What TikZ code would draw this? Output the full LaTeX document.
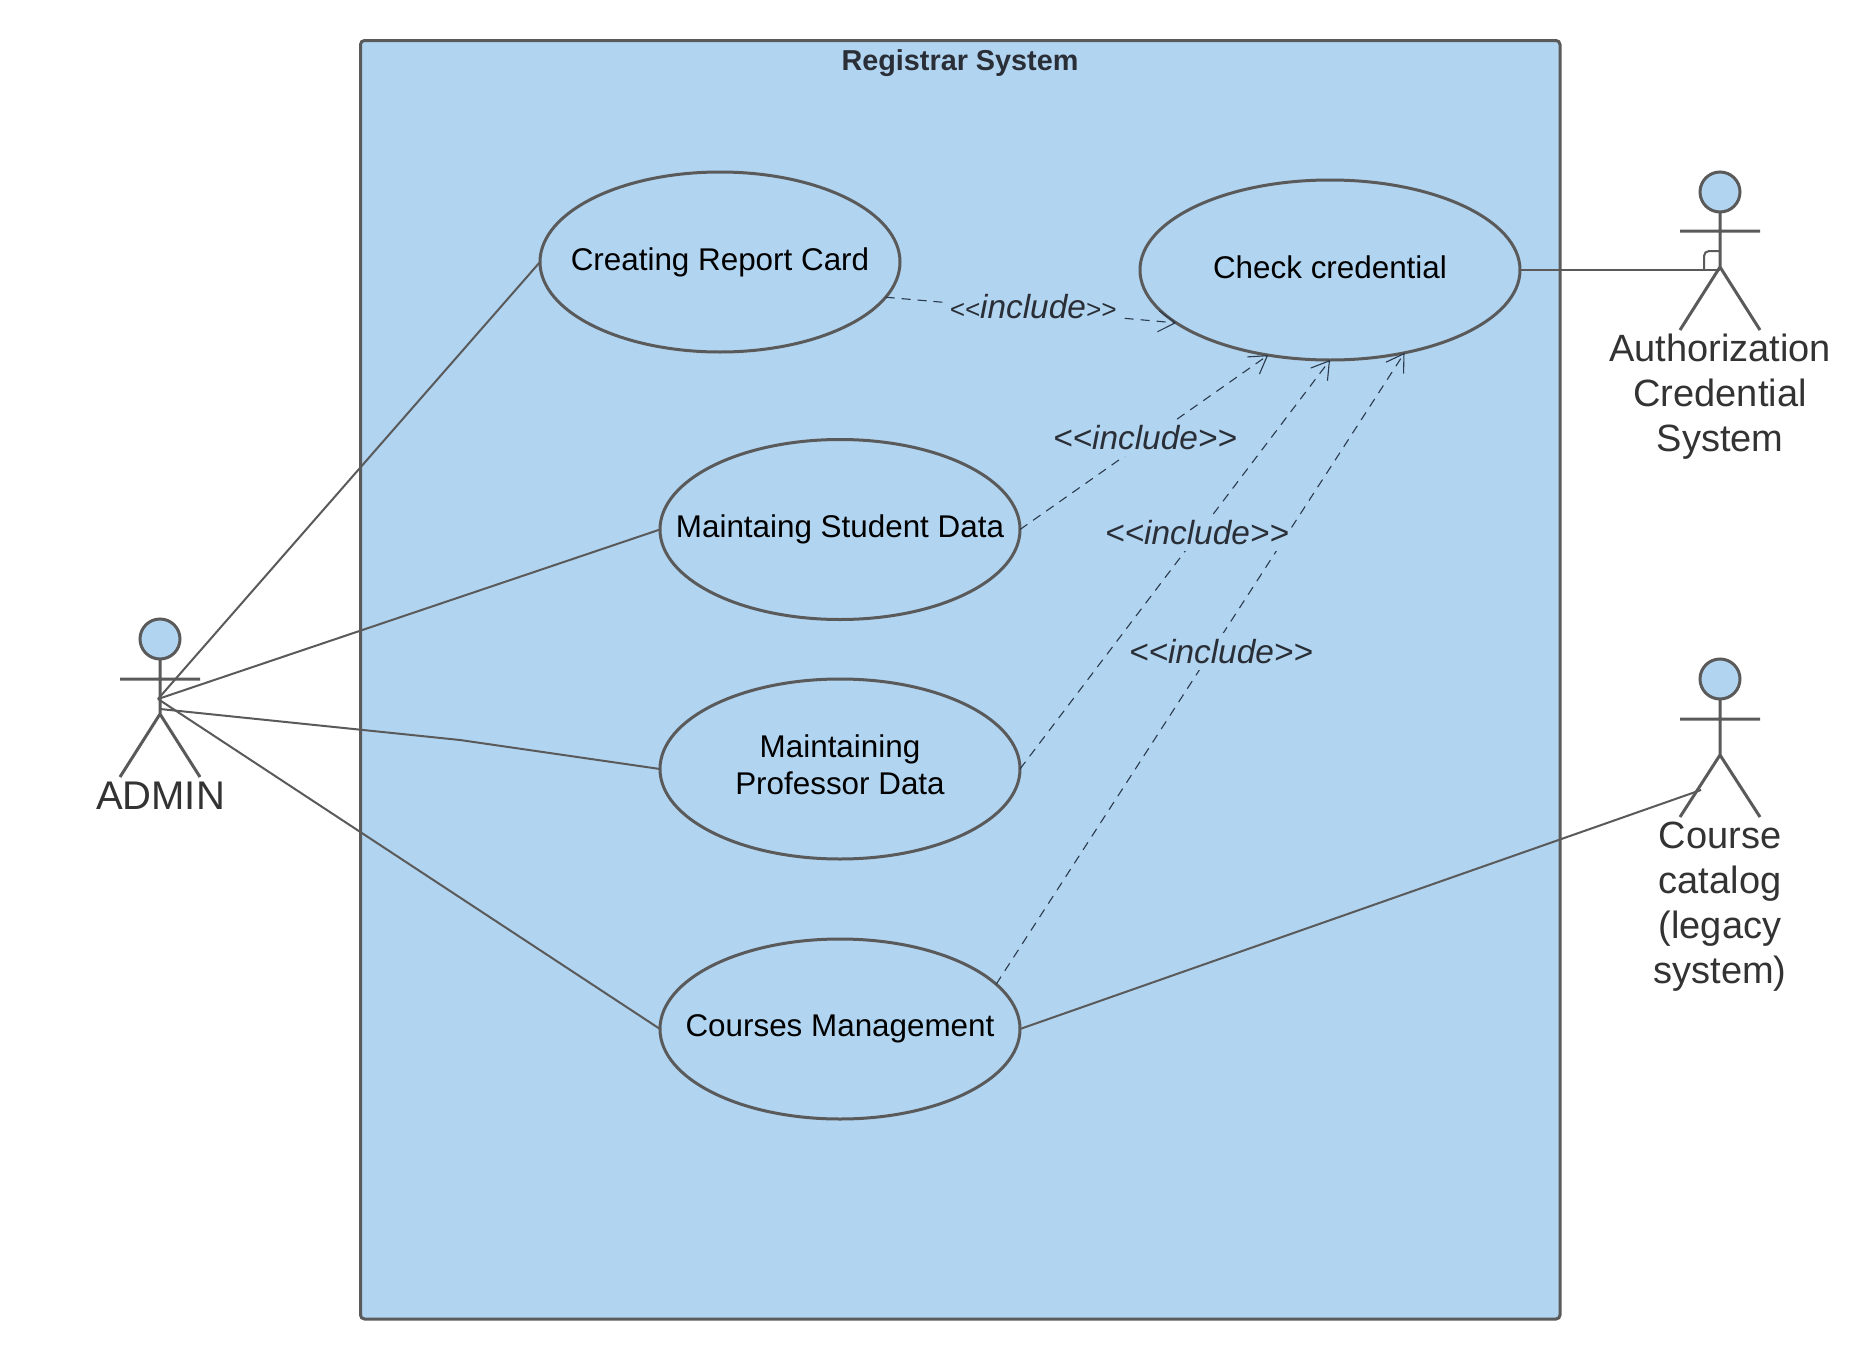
\documentclass[tikz,border=0pt]{standalone}
\usepackage{fontspec}
\setmainfont{Liberation Sans}
\usetikzlibrary{shapes.geometric,arrows.meta}
\definecolor{boxblue}{HTML}{B1D4F0}
\definecolor{edgegrey}{HTML}{5A5A5A}
\definecolor{depink}{HTML}{2A3A4C}
\definecolor{labelink}{HTML}{2A2E36}
\definecolor{actorink}{HTML}{333333}
\newcommand{\uctext}[2][0pt]{\raisebox{#1}{\makebox[0pt]{#2}}}
\tikzset{
  usecase/.style={ellipse,draw=edgegrey,fill=boxblue,line width=1.5pt,minimum width=180pt,minimum height=90pt,inner sep=0pt,outer sep=0pt,align=center,font=\fontsize{15.7}{18.5}\selectfont,text=black},
  assoc/.style={draw=edgegrey,line width=1pt},
  dep/.style={draw=depink,line width=.55pt,dash pattern=on 4.5pt off 3.5pt,-{Straight Barb[length=8.5pt,width=10.5pt,line width=.55pt]}},
  deplabel/.style={fill=boxblue,inner xsep=1pt,inner ysep=3pt,text=labelink,font=\fontsize{16.7}{19}\itshape},
  stick/.style={draw=edgegrey,line width=1.5pt},
  head/.style={circle,draw=edgegrey,fill=boxblue,line width=1.5pt,minimum size=20pt,inner sep=0pt,outer sep=0pt},
  actorname/.style={align=center,text=actorink,font=\fontsize{19}{22.6}\selectfont},
  frame/.style={draw=edgegrey,fill=boxblue,line width=1.5pt,rounded corners=2pt}
}
\begin{document}
\begin{tikzpicture}[x=.5pt,y=-.5pt]
\useasboundingbox (0,0) rectangle (1870,1360);
\fill[white] (0,0) rectangle (1870,1360);
% system frame
\path[frame] (360.5,40.5) rectangle (1560,1319);
\node[font=\fontsize{14.4}{17}\bfseries,text=labelink] (title) at (960,63.5) {Registrar System};
% use cases
\node[usecase] (rc) at (720,262) {\uctext{Creating Report Card}};
\node[usecase,minimum width=190pt] (cc) at (1330,270) {\uctext[2.6pt]{Check credential}};
\node[usecase] (msd) at (840,529.5) {\uctext[-1.2pt]{Maintaing Student Data}};
\node[usecase] (mpd) at (840,769) {\uctext[7pt]{\begin{tabular}{@{}c@{}}Maintaining\\Professor Data\end{tabular}}};
\node[usecase] (cm) at (840,1029) {\uctext[-1.2pt]{Courses Management}};
% actors
\node[head] (adminhead) at (160,639) {};
\draw[stick] (adminhead.south) -- (160,714) (120,679) -- (200,679) (120,777) -- (160,714) -- (200,777);
\node[actorname,font=\fontsize{20}{24}\selectfont] (admin) at (160.5,796) {ADMIN};
\coordinate (adminhub) at (158,699);
\coordinate (adminlow) at (160,709);
\coordinate (bend) at (460,740);
\node[head] (authhead) at (1720,192) {};
\draw[stick] (authhead.south) -- (1720,267) (1680,231) -- (1760,231) (1680,330) -- (1720,267) -- (1760,330);
\node[actorname] (auth) at (1720,396.5) {Authorization\\Credential\\System};
\coordinate (authport) at (1720,270);
\node[head] (cathead) at (1720,679) {};
\draw[stick] (cathead.south) -- (1720,755) (1680,719) -- (1760,719) (1680,817) -- (1720,755) -- (1760,817);
\node[actorname] (cat) at (1720,906.5) {Course\\catalog\\(legacy\\system)};
\coordinate (catport) at (1701,790);
% associations
\draw[assoc] (adminhub) -- (rc.west);
\draw[assoc] (adminhub) -- (msd.west);
\draw[assoc] (adminlow) -- (bend) -- (mpd.west);
\draw[assoc] (adminhub) -- (cm.west);
\draw[assoc] (cm.east) -- (catport);
\draw[assoc] (cc.east) -- (authport);
\draw[assoc,rounded corners=2.5pt] (1704,270) -- (1704,251) -- (1720,251);
% includes
\draw[dep] (rc.-12) -- (cc.199.3);
\draw[dep] (msd.east) -- (cc.234.5);
\draw[dep] (mpd.east) -- (cc.270);
\draw[dep] (cm.16.4) -- (cc.312);
\node[deplabel] (l1) at (1033,307) {{\fontsize{13}{15}\selectfont<{}<}include{\fontsize{13}{15}\selectfont>{}>}};
\node[deplabel] (l2) at (1145,438) {<{}<include>{}>};
\node[deplabel] (l3) at (1197,533) {<{}<include>{}>};
\node[deplabel] (l4) at (1221,651.5) {<{}<include>{}>};
\end{tikzpicture}
\end{document}
